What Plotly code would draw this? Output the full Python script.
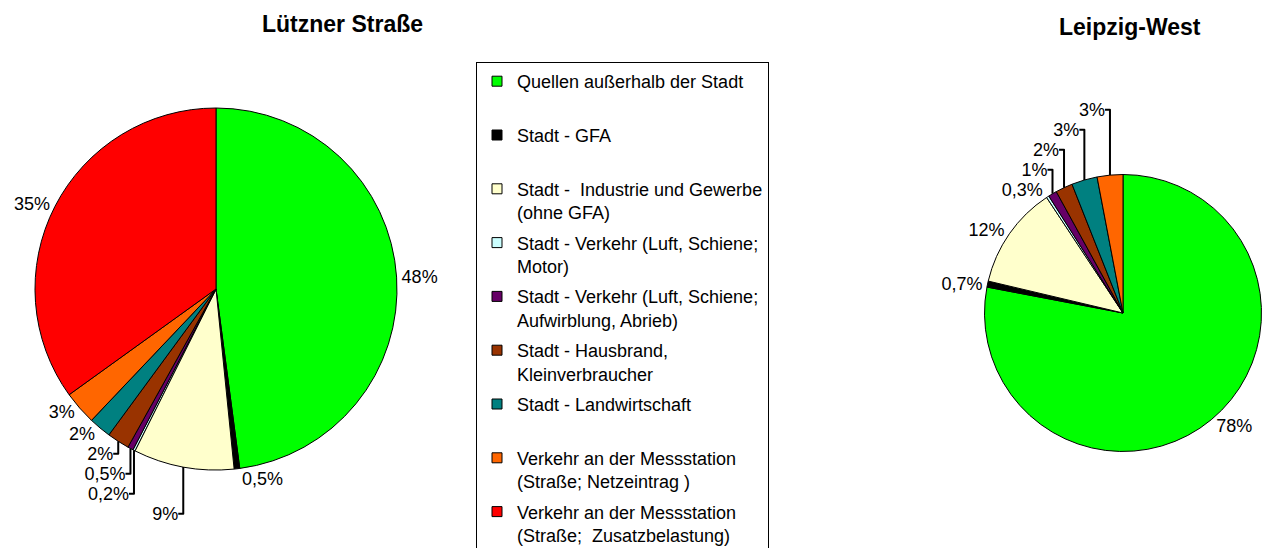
import plotly.graph_objects as go

categories = [
    "Quellen außerhalb der Stadt",
    "Stadt - GFA",
    "Stadt -  Industrie und Gewerbe<br>(ohne GFA)",
    "Stadt - Verkehr (Luft, Schiene;<br>Motor)",
    "Stadt - Verkehr (Luft, Schiene;<br>Aufwirblung, Abrieb)",
    "Stadt - Hausbrand,<br>Kleinverbraucher",
    "Stadt - Landwirtschaft",
    "Verkehr an der Messstation<br>(Straße; Netzeintrag )",
    "Verkehr an der Messstation<br>(Straße;  Zusatzbelastung)",
]
colors = ["#00FF00", "#000000", "#FFFFCC", "#CCFFFF", "#660066",
          "#993300", "#008080", "#FF6600", "#FF0000"]

luetzner_values = [48, 0.5, 9, 0.2, 0.5, 2, 2, 3, 35]
leipzig_west_values = [78, 0.7, 12, 0.3, 1, 2, 3, 3, 0]

titles = ["Lützner Straße", "Leipzig-West"]

FONT = "Liberation Sans, Arial, sans-serif"
OFF = 8                      # page body margin
W, H = 1276 - OFF, 548 - OFF  # figure size


def fx(px):
    return (px - OFF) / W


def fy(py):
    return (H - (py - OFF)) / H


def pie_trace(values, cx, cy, r):
    keep = [i for i, v in enumerate(values) if v > 0]
    return go.Pie(
        labels=[categories[i] for i in keep],
        values=[values[i] for i in keep],
        marker=dict(colors=[colors[i] for i in keep],
                    line=dict(color="black", width=1)),
        sort=False,
        direction="clockwise",
        rotation=0,
        textposition="outside",
        texttemplate="%{value}%",
        textfont=dict(family=FONT, size=18, color="black"),
        showlegend=False,
        hoverinfo="label+value",
        domain=dict(x=[fx(cx - r), fx(cx + r)],
                    y=[fy(cy + r), fy(cy - r)]),
    )


fig = go.Figure()
fig.add_trace(pie_trace(luetzner_values, 216, 289, 181))
fig.add_trace(pie_trace(leipzig_west_values, 1123, 313, 138.5))

# legend entries (one per category)
for i, (cat, col) in enumerate(zip(categories, colors)):
    name = cat if "<br>" in cat else cat + "<br> "
    fig.add_trace(go.Scatter(
        x=[None], y=[None], mode="markers", name=name,
        legendgroup=f"g{i}",
        marker=dict(symbol="square", size=10, color=col,
                    line=dict(color="black", width=1)),
    ))

fig.update_layout(
    width=W, height=H,
    margin=dict(l=0, r=0, t=0, b=0, autoexpand=False),
    paper_bgcolor="white", plot_bgcolor="white",
    separators=",.",
    xaxis=dict(visible=False), yaxis=dict(visible=False),
    font=dict(family=FONT, size=18, color="black"),
    showlegend=True,
    legend=dict(
        x=fx(476), xanchor="left", y=fy(62), yanchor="top",
        bgcolor="white", bordercolor="black", borderwidth=1,
        font=dict(family=FONT, size=18, color="black"),
        valign="top", tracegroupgap=4, itemclick=False,
    ),
    annotations=[
        dict(text="<b>" + titles[0] + "</b>", x=fx(342), y=fy(24),
             xref="paper", yref="paper", showarrow=False,
             xanchor="center", yanchor="middle",
             font=dict(family=FONT, size=23, color="black")),
        dict(text="<b>" + titles[1] + "</b>", x=fx(1130), y=fy(27),
             xref="paper", yref="paper", showarrow=False,
             xanchor="center", yanchor="middle",
             font=dict(family=FONT, size=23, color="black")),
    ],
)

fig.write_html("out.html")
